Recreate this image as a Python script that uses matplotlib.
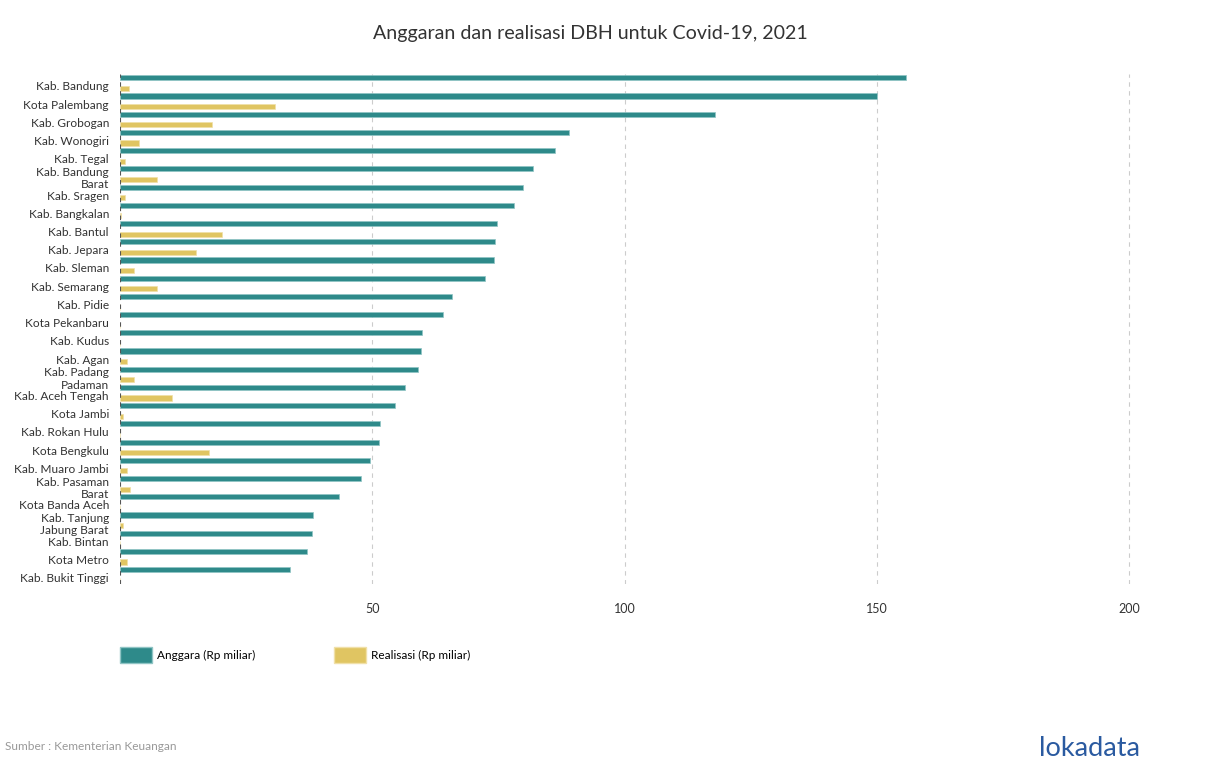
import numpy as np
import matplotlib
matplotlib.use("Agg")
import matplotlib.pyplot as plt
from matplotlib.patches import Patch

plt.rcParams["font.family"] = ["Lato", "DejaVu Sans"]

# --- data (Rp miliar) ---
regions = [
    "Kab. Bandung", "Kota Palembang", "Kab. Grobogan", "Kab. Wonogiri",
    "Kab. Tegal", "Kab. Bandung\nBarat", "Kab. Sragen", "Kab. Bangkalan",
    "Kab. Bantul", "Kab. Jepara", "Kab. Sleman", "Kab. Semarang",
    "Kab. Pidie", "Kota Pekanbaru", "Kab. Kudus", "Kab. Agan",
    "Kab. Padang\nPadaman", "Kab. Aceh Tengah", "Kota Jambi", "Kab. Rokan Hulu",
    "Kota Bengkulu", "Kab. Muaro Jambi", "Kab. Pasaman\nBarat", "Kota Banda Aceh",
    "Kab. Tanjung\nJabung Barat", "Kab. Bintan", "Kota Metro", "Kab. Bukit Tinggi",
]
anggaran = [155.8, 150.0, 117.9, 89.0, 86.2, 81.9, 79.9, 78.1, 74.7, 74.3,
            74.1, 72.3, 65.8, 64.0, 59.9, 59.7, 59.1, 56.5, 54.5, 51.5,
            51.3, 49.6, 47.8, 43.4, 38.3, 38.1, 37.1, 33.7]
realisasi = [1.8, 30.7, 18.2, 3.8, 1.0, 7.3, 1.0, 0.2, 20.2, 15.1,
             2.8, 7.3, 0.0, 0.0, 0.0, 1.4, 2.8, 10.3, 0.6, 0.0,
             17.6, 1.4, 2.0, 0.0, 0.6, 0.0, 1.4, 0.0]

TEAL = "#2e8a8a"
YELLOW = "#e0c562"

W, H = 1210, 760
fig = plt.figure(figsize=(W / 100, H / 100), dpi=100)
# axes in pixel coordinates: left 120, right 1190, top 74, bottom 584
ax = fig.add_axes([120 / W, 1 - 584 / H, (1190 - 120) / W, (584 - 74) / H])

y = np.arange(len(regions))
off, h = 0.29, 0.28
ax.barh(y - off, anggaran, height=h, color=TEAL, edgecolor="#8fc4c4",
        linewidth=0.5, zorder=3)
ax.barh(y + off, realisasi, height=h, color=YELLOW, edgecolor="#f0e0a8",
        linewidth=0.5, zorder=3)

ax.set_xlim(0, 212)
ax.set_ylim(len(regions) - 0.5, -0.5)
ax.set_xticks([50, 100, 150, 200])
ax.set_yticks(y + 0.15)
ax.set_yticklabels(regions, fontsize=8.6, color="#333333", linespacing=1.15)
ax.tick_params(axis="both", length=0, colors="#333333")
ax.tick_params(axis="x", labelsize=9, pad=14)
ax.tick_params(axis="y", pad=8)

for xv in [50, 100, 150, 200]:
    ax.axvline(xv, color="#cccccc", lw=0.8, ls=(0, (4, 4)), zorder=1)
ax.axvline(0, color="#555555", lw=0.8, ls=(0, (4, 4)), zorder=4)
for s in ax.spines.values():
    s.set_visible(False)

fig.text(590 / W, 1 - 33 / H, "Anggaran dan realisasi DBH untuk Covid-19, 2021",
         ha="center", va="center", fontsize=14.1, color="#333333")

handles = [Patch(facecolor=TEAL, edgecolor="#8fc4c4"),
           Patch(facecolor=YELLOW, edgecolor="#f0e0a8")]
leg_kw = dict(loc="center left", frameon=False, fontsize=8.5,
              handlelength=2.7, handleheight=1.6, handletextpad=0.4,
              borderpad=0, borderaxespad=0)
fig.legend(handles[:1], ["Anggara (Rp miliar)"],
           bbox_to_anchor=(120 / W, 1 - 655 / H), **leg_kw)
fig.legend(handles[1:], ["Realisasi (Rp miliar)"],
           bbox_to_anchor=(334 / W, 1 - 655 / H), **leg_kw)

fig.text(5 / W, 1 - 747 / H, "Sumber : Kementerian Keuangan", ha="left",
         va="center", fontsize=8.6, color="#999999")
fig.text(1140 / W, 1 - 749 / H, "lokadata", ha="right", va="center",
         fontsize=19.5, color="#2a5aa0")

fig.savefig("out.png", dpi=100)
